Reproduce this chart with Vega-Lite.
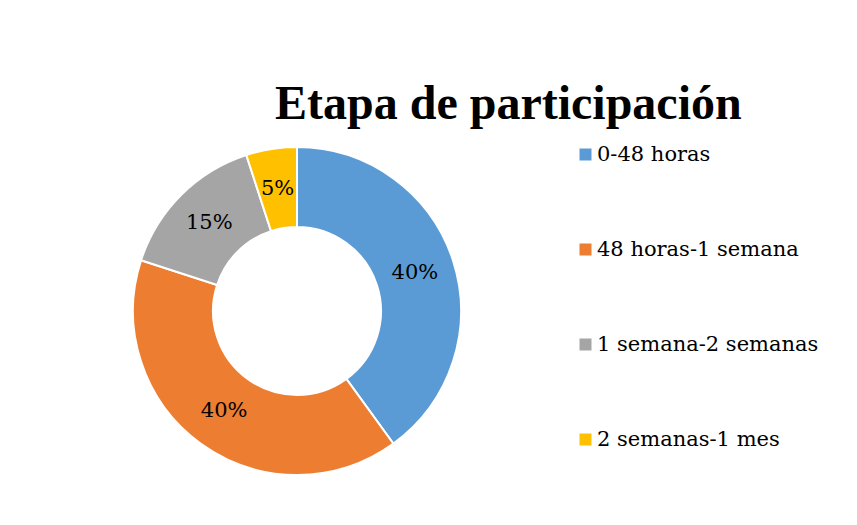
{
  "$schema": "https://vega.github.io/schema/vega-lite/v6.json",
  "width": 328,
  "height": 328,
  "autosize": {"type": "none"},
  "padding": {"left": 133, "top": 147, "right": 396, "bottom": 50},
  "background": "white",
  "title": {
    "text": "Etapa de participación",
    "anchor": "start",
    "frame": "group",
    "dx": 142,
    "offset": 14,
    "fontSize": 48,
    "font": "Liberation Serif",
    "fontWeight": "bold",
    "color": "#000000"
  },
  "data": {
    "values": [
      {"etapa": "0-48 horas", "pct": 40, "label": "40%", "orden": 1},
      {"etapa": "48 horas-1 semana", "pct": 40, "label": "40%", "orden": 2},
      {"etapa": "1 semana-2  semanas", "pct": 15, "label": "15%", "orden": 3},
      {"etapa": "2 semanas-1 mes", "pct": 5, "label": "5%", "orden": 4}
    ]
  },
  "encoding": {
    "theta": {"field": "pct", "type": "quantitative", "stack": true},
    "order": {"field": "orden", "type": "quantitative"}
  },
  "layer": [
    {
      "mark": {"type": "arc", "innerRadius": 84, "outerRadius": 164, "stroke": "white", "strokeWidth": 2},
      "encoding": {
        "color": {
          "field": "etapa",
          "type": "nominal",
          "sort": null,
          "scale": {
            "domain": ["0-48 horas", "48 horas-1 semana", "1 semana-2  semanas", "2 semanas-1 mes"],
            "range": ["#5B9BD5", "#ED7D31", "#A5A5A5", "#FFC000"]
          },
          "legend": {
            "title": null,
            "orient": "none",
            "legendX": 442,
            "legendY": -3,
            "padding": 0,
            "symbolType": "square",
            "symbolSize": 144,
            "symbolStrokeWidth": 0,
            "labelFont": "DejaVu Serif",
            "labelFontSize": 21,
            "labelColor": "#000000",
            "labelOffset": 1,
            "labelLimit": 400,
            "rowPadding": 73
          }
        }
      }
    },
    {
      "mark": {"type": "text", "radius": 124, "fontSize": 21, "font": "DejaVu Serif", "color": "#000000"},
      "encoding": {
        "text": {"field": "label", "type": "nominal"}
      }
    }
  ],
  "config": {
    "view": {"stroke": null}
  }
}
